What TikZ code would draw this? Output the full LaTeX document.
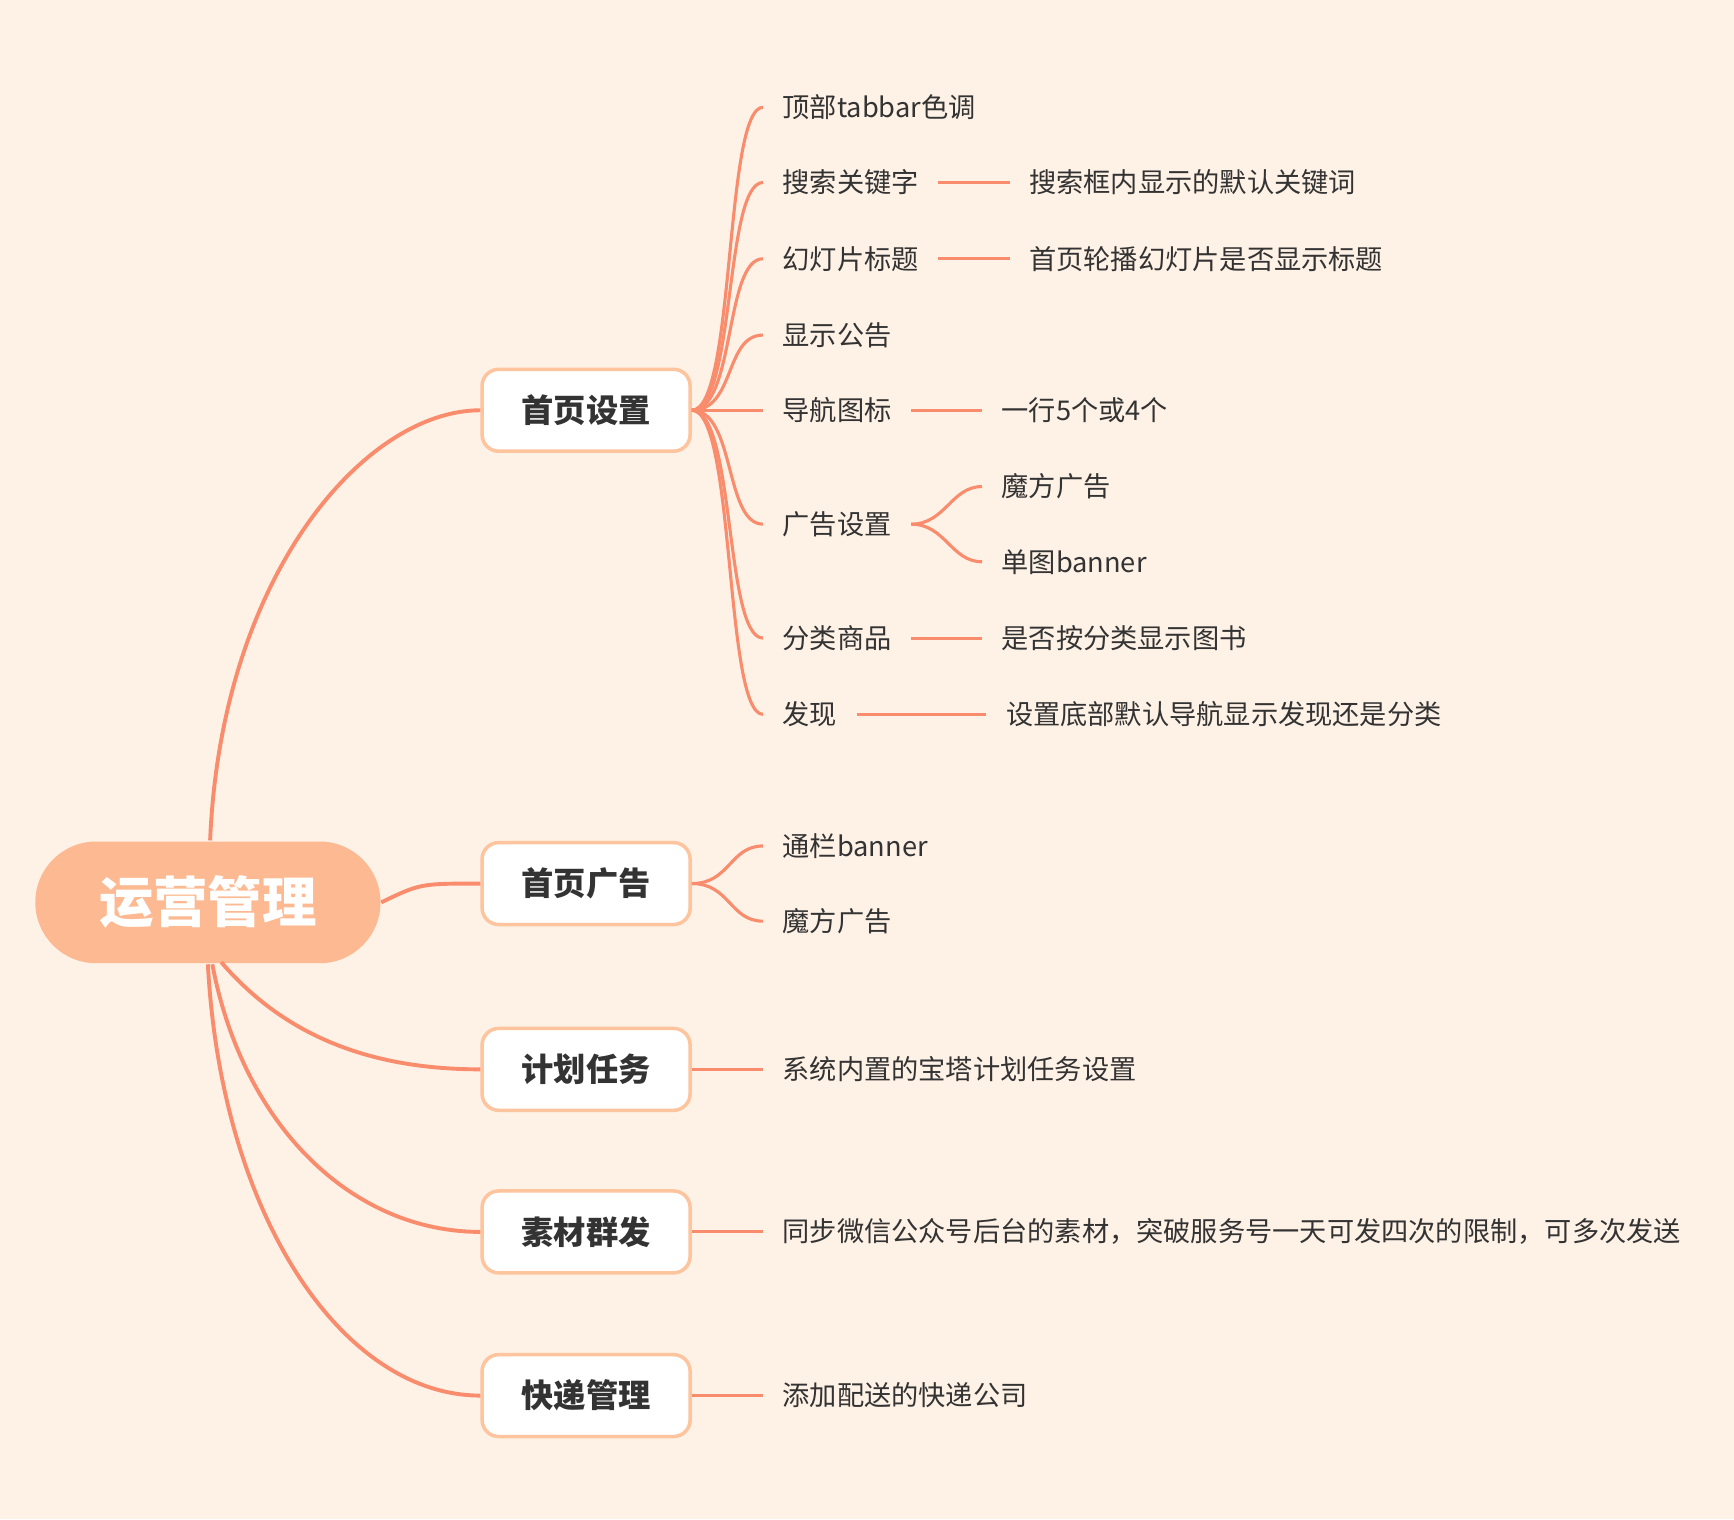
\documentclass[tikz,border=0pt]{standalone}
\usepackage{fontspec}
\setmainfont{Noto Sans CJK SC}
\definecolor{bg}{HTML}{FEF1E6}
\definecolor{branch}{HTML}{F98C6C}
\definecolor{rootfill}{HTML}{FDBA92}
\definecolor{boxline}{HTML}{FDC49E}
\definecolor{txt}{HTML}{333333}
\tikzset{
  root/.style={rounded corners=0.55cm,fill=rootfill,minimum width=3.12cm,minimum height=1.1cm,
    text=white,font=\fontsize{14}{14}\selectfont\bfseries},
  topic/.style={rounded corners=0.15cm,draw=boxline,line width=0.9pt,fill=white,
    minimum width=1.88cm,minimum height=0.74cm,text=txt,font=\fontsize{8.3}{8.3}\selectfont\bfseries},
  leaf/.style={anchor=west,inner xsep=0.17cm,inner ysep=0pt,text=txt,font=\fontsize{7}{7}\selectfont},
  link/.style={draw=branch,line width=1pt},
  sub/.style={draw=branch,line width=0.8pt}
}
\begin{document}
\begin{tikzpicture}[x=0.01cm,y=-0.01cm]
\fill[bg] (0,0) rectangle (1568,1374);
\useasboundingbox (0,0) rectangle (1568,1374);

%Root and topics
\node[root] (root) at (188,816) {运营管理};
\node[topic] (t1) at (530,371) {首页设置};
\node[topic] (t2) at (530,799) {首页广告};
\node[topic] (t3) at (530,967) {计划任务};
\node[topic] (t4) at (530,1114) {素材群发};
\node[topic] (t5) at (530,1262) {快递管理};

%Root links
\draw[link] (190,760) .. controls (200,520) and (330,371) .. (t1.west);
\draw[link] (root.east) .. controls (380,799) .. (t2.west);
\draw[link] (200,870) .. controls (260,940) and (340,967) .. (t3.west);
\draw[link] (192,872) .. controls (220,1020) and (320,1114) .. (t4.west);
\draw[link] (188,872) .. controls (200,1100) and (310,1262) .. (t5.west);

%Leaves of first topic
\foreach \n/\y/\s in {a/97/顶部tabbar色调, b/165/搜索关键字, c/234/幻灯片标题, d/303/显示公告,
  e/371/导航图标, f/474/广告设置, g/577/分类商品, h/646/发现/分类}{
  \node[leaf] (l\n) at (690,\y) {\s};
  \draw[sub] (t1.east) .. controls (665,371) and (655,\y) .. (l\n.west);
}
\node[leaf] (lb1) at (913,165) {搜索框内显示的默认关键词};
\node[leaf] (lc1) at (913,234) {首页轮播幻灯片是否显示标题};
\node[leaf] (le1) at (888,371) {一行5个或4个};
\node[leaf] (lf1) at (888,440) {魔方广告};
\node[leaf] (lf2) at (888,508) {单图banner};
\node[leaf] (lg1) at (888,577) {是否按分类显示图书};
\node[leaf] (lh1) at (892,646) {设置底部默认导航显示发现还是分类};
\draw[sub] (lb) -- (lb1);
\draw[sub] (lc) -- (lc1);
\draw[sub] (le) -- (le1);
\draw[sub] (lg) -- (lg1);
\draw[sub] (lh) -- (lh1);
\draw[sub] (lf.east) .. controls (855,474) and (860,440) .. (lf1.west);
\draw[sub] (lf.east) .. controls (855,474) and (860,508) .. (lf2.west);

%Leaves of other topics
\node[leaf] (m1) at (690,765) {通栏banner};
\node[leaf] (m2) at (690,833) {魔方广告};
\draw[sub] (t2.east) .. controls (660,799) and (660,765) .. (m1.west);
\draw[sub] (t2.east) .. controls (660,799) and (660,833) .. (m2.west);
\node[leaf] (n1) at (690,967) {系统内置的宝塔计划任务设置};
\node[leaf] (p1) at (690,1114) {同步微信公众号后台的素材，突破服务号一天可发四次的限制，可多次发送};
\node[leaf] (q1) at (690,1262) {添加配送的快递公司};
\draw[sub] (t3) -- (n1);
\draw[sub] (t4) -- (p1);
\draw[sub] (t5) -- (q1);
\end{tikzpicture}
\end{document}
